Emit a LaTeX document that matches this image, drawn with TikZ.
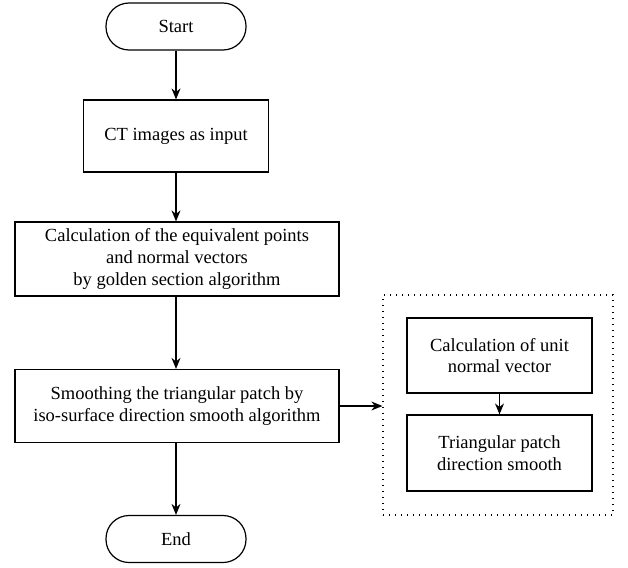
\documentclass[tikz,border=0pt]{standalone}
\usepackage{fontspec}
\setmainfont{Liberation Serif}
\usetikzlibrary{arrows.meta}
\begin{document}
\begin{tikzpicture}[x=1pt,y=-1pt,
  every node/.style={font=\fontsize{18.5}{21.7}\selectfont, align=center, inner sep=0pt},
  proc/.style={draw, line width=1.2pt, minimum width=#1},
  terminal/.style={draw, line width=1.2pt, rounded corners=23pt, minimum width=140pt, minimum height=47pt},
  flow/.style={line width=1.2pt, -{Stealth[length=11pt,width=9pt]}},
  group/.style={draw, line width=1.3pt, dash pattern=on 1.3pt off 4.7pt}]
  \useasboundingbox (0,0) rectangle (628,567);

  % main column
  \node[terminal] (start) at (176,26.5) {Start};
  \node[proc=185pt, minimum height=72pt] (ct) at (176,136) {CT images as input};
  \node[proc=324pt, minimum height=74pt] (calc) at (177,259)
    {Calculation of the equivalent points\\and normal vectors\\by golden section algorithm};
  \node[proc=324pt, minimum height=73pt] (smooth) at (177,406)
    {Smoothing the triangular patch by\\iso-surface direction smooth algorithm};
  \node[terminal] (end) at (176,539) {End};

  % detail of the smoothing step
  \node[group, minimum width=230pt, minimum height=220pt] (grp) at (498,405) {};
  \node[proc=185pt, minimum height=75pt] (unit) at (499.5,355.5)
    {Calculation of unit\\normal vector};
  \node[proc=185pt, minimum height=76pt] (tri) at (499.5,453)
    {Triangular patch\\direction smooth};

  % connectors
  \draw[flow] (start) -- (ct);
  \draw[flow] (ct.south) -- (ct.south |- calc.north);
  \draw[flow] (ct.south |- calc.south) -- (ct.south |- smooth.north);
  \draw[flow] (ct.south |- smooth.south) -- (end);
  \draw[flow] (smooth.east) -- (smooth.east -| grp.west);
  \draw[flow] (unit) -- (tri);
\end{tikzpicture}
\end{document}
